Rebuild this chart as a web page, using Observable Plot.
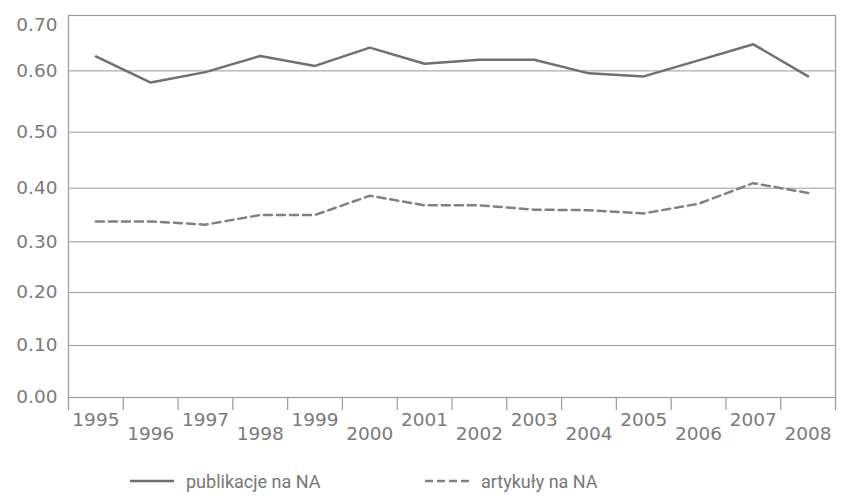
<!DOCTYPE html>
<html>
<head>
<meta charset="utf-8">
<script src="https://cdn.jsdelivr.net/npm/d3@7"></script>
<script src="https://cdn.jsdelivr.net/npm/@observablehq/plot@0.6"></script>
<style>
  body { margin: 0; background: #fff; }
  #chart svg { display: block; }
  .legend { position: relative; height: 24px; margin-top: 11px; font-family: Roboto, sans-serif; font-size: 18px; color: #777; width: 842px; }
  .legend .item { position: absolute; top: 0; height: 24px; display: flex; align-items: center; }
  .legend svg { margin-right: 12px; }
</style>
</head>
<body>
<div id="chart"></div>
<div class="legend">
  <div class="item" style="left:130px"><svg width="44" height="6"><line x1="0" x2="44" y1="3" y2="3" stroke="#707070" stroke-width="2.5"/></svg><span>publikacje na NA</span></div>
  <div class="item" style="left:425px"><svg width="44" height="6"><line x1="0" x2="44" y1="3" y2="3" stroke="#808080" stroke-width="2.5" stroke-dasharray="8,4"/></svg><span>artykuły na NA</span></div>
</div>
<script>
const years = [1995, 1996, 1997, 1998, 1999, 2000, 2001, 2002, 2003, 2004, 2005, 2006, 2007, 2008];
const publikacje = [0.626, 0.581, 0.598, 0.627, 0.609, 0.642, 0.613, 0.620, 0.620, 0.596, 0.591, 0.619, 0.648, 0.591];
const artykuly = [0.338, 0.338, 0.332, 0.350, 0.350, 0.386, 0.368, 0.368, 0.360, 0.359, 0.353, 0.371, 0.409, 0.391];
const yTicks = [0, 0.1, 0.2, 0.3, 0.4, 0.5, 0.6, 0.7];
const seriesNames = ["publikacje na NA", "artykuły na NA"];

const rows1 = years.map((y, i) => ({year: y, value: publikacje[i]}));
const rows2 = years.map((y, i) => ({year: y, value: artykuly[i]}));
const bounds = [...years.map(y => y - 0.5), years[years.length - 1] + 0.5];

const W = 842, H = 458;
const mt = 15, mb = 61;
// piecewise y scale matching the reference gridlines
const yRange = [397, 345, 292, 241.3, 187.7, 131.7, 70.4, 15];

const font = "'DejaVu Sans', Verdana, sans-serif";
const labelStyle = { tickSize: 0, tickPadding: 11, fontSize: 18.5, fill: "#7a7a7a", fontFamily: font, label: null, tickFormat: d3.format(".2f") };
const chart = Plot.plot({
  width: W,
  height: H,
  marginLeft: 68,
  marginRight: 7,
  marginTop: mt,
  marginBottom: mb,
  style: { fontFamily: font, background: "#fff" },
  x: { type: "linear", domain: [bounds[0], bounds[bounds.length - 1]], label: null },
  y: { type: "linear", domain: yTicks, range: yRange, label: null },
  marks: [
    Plot.gridY({ ticks: yTicks.slice(1, -1), stroke: "#999", strokeOpacity: 1, strokeWidth: 1 }),
    Plot.frame({ stroke: "#999", strokeWidth: 1.2 }),
    Plot.axisX({ ticks: bounds, tickSize: 13, tickFormat: () => "", stroke: "#999", strokeWidth: 1.2, label: null }),
    Plot.axisY({ ...labelStyle, ticks: yTicks.slice(0, -1) }),
    Plot.axisY({ ...labelStyle, ticks: yTicks.slice(-1), dy: 10 }),
    Plot.text(years.filter((d, i) => i % 2 === 0), { x: d => d, y: () => 0, text: d => String(d), dy: 23, fontSize: 18.5, fill: "#7a7a7a", fontFamily: font }),
    Plot.text(years.filter((d, i) => i % 2 === 1), { x: d => d, y: () => 0, text: d => String(d), dy: 37, fontSize: 18.5, fill: "#7a7a7a", fontFamily: font }),
    Plot.line(rows2, { x: "year", y: "value", stroke: "#808080", strokeWidth: 2.5, strokeDasharray: "8,5" }),
    Plot.line(rows1, { x: "year", y: "value", stroke: "#707070", strokeWidth: 2.5 })
  ]
});
document.getElementById("chart").appendChild(chart);
</script>
</body>
</html>
